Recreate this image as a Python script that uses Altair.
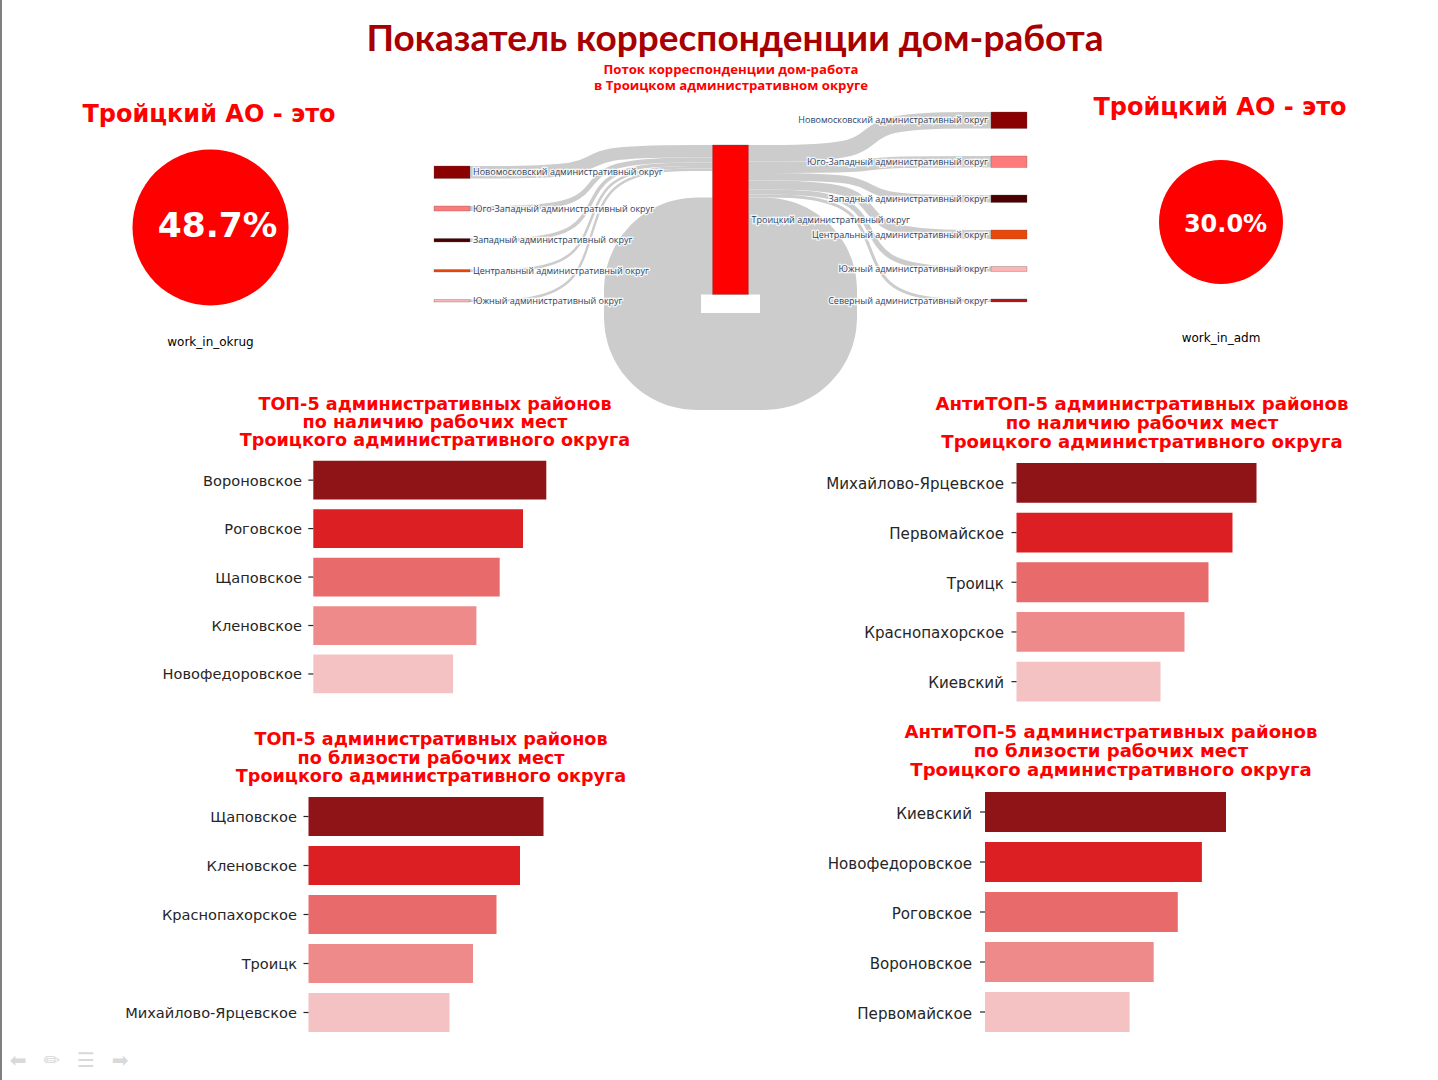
import math
import altair as alt
import pandas as pd

# ---------------- data ----------------
MAIN_TITLE = "Показатель корреспонденции дом-работа"
SANKEY_TITLE = ["Поток корреспонденции дом-работа", "в Троицком административном округе"]
KPI_HEAD = "Тройцкий АО - это"
KPI_NAMES = ["work_in_okrug", "work_in_adm"]
KPI_VALUES = [48.7, 30.0]

SRC_NODES = [
    "Новомосковский административный округ",
    "Юго-Западный административный округ",
    "Западный административный округ",
    "Центральный административный округ",
    "Южный административный округ",
]
SRC_VALUES = [12.5, 5.0, 3.5, 2.5, 2.5]
HUB_NODE = "Троицкий административный округ"
HUB_SELF = 97.0
DST_NODES = [
    "Новомосковский административный округ",
    "Юго-Западный административный округ",
    "Западный административный округ",
    "Центральный административный округ",
    "Южный административный округ",
    "Северный административный округ",
]
DST_VALUES = [16.5, 11.5, 7.5, 9.0, 5.0, 3.0]

TOP_JOBS_NAMES = ["Вороновское", "Роговское", "Щаповское", "Кленовское", "Новофедоровское"]
TOP_JOBS_VALUES = [10, 9, 8, 7, 6]
ANTI_JOBS_NAMES = ["Михайлово-Ярцевское", "Первомайское", "Троицк", "Краснопахорское", "Киевский"]
ANTI_JOBS_VALUES = [10, 9, 8, 7, 6]
TOP_NEAR_NAMES = ["Щаповское", "Кленовское", "Краснопахорское", "Троицк", "Михайлово-Ярцевское"]
TOP_NEAR_VALUES = [10, 9, 8, 7, 6]
ANTI_NEAR_NAMES = ["Киевский", "Новофедоровское", "Роговское", "Вороновское", "Первомайское"]
ANTI_NEAR_VALUES = [10, 9, 8, 7, 6]

T_TOP_JOBS = ["ТОП-5 административных районов", "по наличию рабочих мест", "Троицкого административного округа"]
T_ANTI_JOBS = ["АнтиТОП-5 административных районов", "по наличию рабочих мест", "Троицкого административного округа"]
T_TOP_NEAR = ["ТОП-5 административных районов", "по близости рабочих мест", "Троицкого административного округа"]
T_ANTI_NEAR = ["АнтиТОП-5 административных районов", "по близости рабочих мест", "Троицкого административного округа"]

NAV_ICONS = ["⬅", "✏", "☰", "➡"]

# ---------------- styles ----------------
BAR_COLORS = ["#8E1418", "#DC1F22", "#E86A6A", "#EE8B8A", "#F4C2C2"]
OKRUG_COLORS = {
    "Новомосковский": "#8B0000",
    "Юго-Западный": "#FF7B7B",
    "Западный": "#4A0000",
    "Центральный": "#E8480C",
    "Южный": "#FFB4B4",
    "Северный": "#B01515",
    "Троицкий": "#FF0000",
}
RED = "#FF0000"
TXT = "#262626"
PLOTLY_TXT = "#2a3f5f"
LINK_GREY = "#cccccc"

dummy = pd.DataFrame({"d": [0]})


def text_layer(text, x, y, size, color, font, weight="normal", align="center",
               baseline="alphabetic", line_height=None):
    kw = dict(align=align, baseline=baseline, fontSize=size, color=color,
              font=font, fontWeight=weight)
    if line_height is not None:
        kw["lineHeight"] = line_height
    return alt.Chart(dummy).mark_text(**kw).encode(
        text=alt.value(text), x=alt.value(x), y=alt.value(y))


# ---------------- sankey layout ----------------
COL_X = [0.0, 278.5, 557.0]
NODE_W = 36.0
GAP = 27.5
COL_BOTTOM = 201.0
HUB_TOP = 44.0
LOOP_REACH = 60.0      # centre line of the self loop beyond the hub edges
LOOP_DROP = 115.5      # centre line of the self loop below its attachment
LOOP_R = 44.0          # corner radius of the loop centre line


def okrug_key(name):
    return name.split(" ")[0]


def stack_tops(values):
    total = sum(values) + GAP * (len(values) - 1)
    t = COL_BOTTOM - total
    tops = []
    for v in values:
        tops.append(t)
        t += v + GAP
    return tops


src_tops = stack_tops(SRC_VALUES)
dst_tops = stack_tops(DST_VALUES)
hub_h = max(sum(SRC_VALUES), sum(DST_VALUES)) + HUB_SELF

node_rows = []
for n, v, t in zip(SRC_NODES, SRC_VALUES, src_tops):
    node_rows.append(dict(label=n, key=okrug_key(n), x=COL_X[0], x2=COL_X[0] + NODE_W,
                          y=t, y2=t + v, side="L"))
node_rows.append(dict(label=HUB_NODE, key=okrug_key(HUB_NODE), x=COL_X[1], x2=COL_X[1] + NODE_W,
                      y=HUB_TOP, y2=HUB_TOP + hub_h, side="L"))
for n, v, t in zip(DST_NODES, DST_VALUES, dst_tops):
    node_rows.append(dict(label=n, key=okrug_key(n), x=COL_X[2], x2=COL_X[2] + NODE_W,
                          y=t, y2=t + v, side="R"))
nodes_df = pd.DataFrame(node_rows)
nodes_df["ly"] = (nodes_df["y"] + nodes_df["y2"]) / 2
nodes_df["lx"] = nodes_df.apply(lambda r: r["x2"] + 3 if r["side"] == "L" else r["x"] - 3, axis=1)

# regular links (S-curves)
link_rows = []


def add_path(rows, lid, pts, w):
    for i, (x, y) in enumerate(pts):
        rows.append(dict(link=lid, i=i, x=x, y=y, w=w))


cum = 0.0
for k, (v, t) in enumerate(zip(SRC_VALUES, src_tops)):
    x0, y0 = COL_X[0] + NODE_W, t + v / 2
    x1, y1 = COL_X[1], HUB_TOP + cum + v / 2
    xm = (x0 + x1) / 2
    add_path(link_rows, f"in{k}", [(x0, y0), (xm, y0), (xm, y1), (x1, y1)], v)
    cum += v

cum = 0.0
for k, (v, t) in enumerate(zip(DST_VALUES, dst_tops)):
    x0, y0 = COL_X[1] + NODE_W, HUB_TOP + cum + v / 2
    x1, y1 = COL_X[2], t + v / 2
    xm = (x0 + x1) / 2
    add_path(link_rows, f"out{k}", [(x0, y0), (xm, y0), (xm, y1), (x1, y1)], v)
    cum += v
links_df = pd.DataFrame(link_rows)

# self loop of the hub: rounded-rectangle centre line
yl = HUB_TOP + sum(DST_VALUES) + HUB_SELF / 2
xr = COL_X[1] + NODE_W
xl = COL_X[1]
XR, XL, YB = xr + LOOP_REACH, xl - LOOP_REACH, yl + LOOP_DROP


def corner(cx, cy, a0, a1, n=10):
    return [(cx + LOOP_R * math.cos(math.radians(a0 + (a1 - a0) * j / n)),
             cy + LOOP_R * math.sin(math.radians(a0 + (a1 - a0) * j / n))) for j in range(n + 1)]


loop_pts = [(xr, yl)]
loop_pts += corner(XR - LOOP_R, yl + LOOP_R, -90, 0)
loop_pts += corner(XR - LOOP_R, YB - LOOP_R, 0, 90)
loop_pts += corner(XL + LOOP_R, YB - LOOP_R, 90, 180)
loop_pts += corner(XL + LOOP_R, yl + LOOP_R, 180, 270)
loop_pts += [(xl, yl)]
loop_rows = []
add_path(loop_rows, "loop", loop_pts, HUB_SELF)
loop_df = pd.DataFrame(loop_rows)

SX = alt.Scale(domain=[0, 593], range=[434, 1027], nice=False, zero=False)
SY = alt.Scale(domain=[0, 320], range=[101, 421], nice=False, zero=False)
SW = alt.Scale(domain=[0, 100], range=[0, 100], nice=False, zero=True)

loop = alt.Chart(loop_df).mark_line(interpolate="linear", color=LINK_GREY, strokeJoin="round").encode(
    x=alt.X("x:Q", scale=SX, axis=None),
    y=alt.Y("y:Q", scale=SY, axis=None),
    detail="link:N",
    order="i:Q",
    strokeWidth=alt.StrokeWidth("w:Q", scale=SW, legend=None),
)

links = alt.Chart(links_df).mark_line(interpolate="basis", color=LINK_GREY).encode(
    x=alt.X("x:Q", scale=SX, axis=None),
    y=alt.Y("y:Q", scale=SY, axis=None),
    detail="link:N",
    order="i:Q",
    strokeWidth=alt.StrokeWidth("w:Q", scale=SW, legend=None),
)

keys = list(OKRUG_COLORS.keys())
nodes = alt.Chart(nodes_df).mark_rect(stroke="#555555", strokeWidth=0.6, strokeOpacity=0.5).encode(
    x=alt.X("x:Q", scale=SX, axis=None),
    x2="x2:Q",
    y=alt.Y("y:Q", scale=SY, axis=None),
    y2="y2:Q",
    fill=alt.Fill("key:N", scale=alt.Scale(domain=keys, range=[OKRUG_COLORS[k] for k in keys]), legend=None),
)


def node_labels(side, align):
    base = alt.Chart(nodes_df).transform_filter(f"datum.side == '{side}'")
    enc = dict(x=alt.X("lx:Q", scale=SX, axis=None), y=alt.Y("ly:Q", scale=SY, axis=None), text="label:N")
    halo = base.mark_text(align=align, baseline="middle", font="Open Sans", fontSize=9,
                          stroke="white", strokeWidth=2.5, strokeOpacity=0.8, color="white").encode(**enc)
    txt = base.mark_text(align=align, baseline="middle", font="Open Sans", fontSize=9,
                         color=PLOTLY_TXT).encode(**enc)
    return [halo, txt]


sankey = alt.layer(loop, links, nodes, *node_labels("L", "left"), *node_labels("R", "right"))


# ---------------- bar panels ----------------
def bar_panel(names, values, x_range, y_range, label_x, label_size):
    df = pd.DataFrame({"name": names, "value": values})
    ys = alt.Scale(domain=names, range=y_range, paddingInner=0.2, paddingOuter=0.1)
    xs = alt.Scale(domain=[0, max(values)], range=x_range, nice=False, zero=True)
    y_enc = alt.Y("name:N", scale=ys, axis=None, sort=names, bandPosition=0.5)
    bars = alt.Chart(df).mark_bar().encode(
        x=alt.X("value:Q", scale=xs, axis=None),
        y=alt.Y("name:N", scale=ys, axis=None, sort=names),
        color=alt.Color("name:N", scale=alt.Scale(domain=names, range=BAR_COLORS), legend=None),
    )
    ticks = alt.Chart(df).mark_rule(color=TXT, strokeWidth=1.2).encode(
        x=alt.value(x_range[0] - 5), x2=alt.value(x_range[0]), y=y_enc)
    labels = alt.Chart(df).mark_text(align="right", baseline="middle", font="DejaVu Sans",
                                     fontSize=label_size, color=TXT, dy=1.5).encode(
        x=alt.value(label_x), y=y_enc, text="name:N")
    return alt.layer(bars, ticks, labels)


p1 = bar_panel(TOP_JOBS_NAMES, TOP_JOBS_VALUES, [313.3, 546.3], [455.9, 698.2], 302, 14.6)
p2 = bar_panel(ANTI_JOBS_NAMES, ANTI_JOBS_VALUES, [1016.5, 1256.5], [458.0, 706.5], 1004, 15.1)
p3 = bar_panel(TOP_NEAR_NAMES, TOP_NEAR_VALUES, [308.5, 543.5], [792.0, 1037.0], 297, 14.6)
p4 = bar_panel(ANTI_NEAR_NAMES, ANTI_NEAR_VALUES, [985.0, 1226.0], [787.0, 1037.0], 972, 15.1)


def panel_title(lines, x, y, size, lh):
    return text_layer(lines, x, y, size, RED, "DejaVu Sans", "bold", baseline="middle", line_height=lh)


# ---------------- KPI circles ----------------
kpi_df = pd.DataFrame({"name": KPI_NAMES, "value": KPI_VALUES})


def kpi(name, cx, cy, r, fsize, val_x, val_base, cap_base):
    base = alt.Chart(kpi_df).transform_filter(f"datum.name == '{name}'").transform_calculate(
        lbl="format(datum.value, '.1f') + '%'")
    pie = base.mark_arc(radius=r, color=RED).encode(
        theta=alt.Theta("value:Q", stack=True), x=alt.value(cx), y=alt.value(cy))
    val = base.mark_text(font="DejaVu Sans", fontWeight="bold", fontSize=fsize, color="white",
                         align="center", baseline="alphabetic").encode(
        text="lbl:N", x=alt.value(val_x), y=alt.value(val_base))
    cap = base.mark_text(font="DejaVu Sans", fontSize=12, color="black",
                         align="center", baseline="alphabetic").encode(
        text="name:N", x=alt.value(cx), y=alt.value(cap_base))
    return [pie, val, cap]


# ---------------- slide chrome ----------------
frame = alt.Chart(dummy).mark_rule(color="#555555", strokeWidth=1.5).encode(
    x=alt.value(1), y=alt.value(0), y2=alt.value(1080))
nav = [text_layer(ic, 18 + 34 * j, 1067, 20, "#d9d9d9", "DejaVu Sans") for j, ic in enumerate(NAV_ICONS)]

layers = [
    frame,
    sankey,
    text_layer(MAIN_TITLE, 735, 51, 37, "#A80000", "Lato", "bold"),
    text_layer(SANKEY_TITLE, 731, 70, 13.2, RED, "Open Sans", "bold", baseline="middle", line_height=16),
    text_layer(KPI_HEAD, 209, 121.5, 24, RED, "DejaVu Sans", "bold"),
    text_layer(KPI_HEAD, 1220, 115, 24, RED, "DejaVu Sans", "bold"),
    *kpi("work_in_okrug", 210.5, 227.5, 78, 34.5, 217.5, 236.5, 345.5),
    *kpi("work_in_adm", 1221, 222, 62, 24, 1225.5, 231.5, 341.5),
    p1, p2, p3, p4,
    panel_title(T_TOP_JOBS, 435, 405, 17.6, 18),
    panel_title(T_ANTI_JOBS, 1142, 405, 18.1, 19),
    panel_title(T_TOP_NEAR, 431, 740, 17.6, 18.5),
    panel_title(T_ANTI_NEAR, 1111, 733, 18.1, 19),
    *nav,
]

chart = alt.layer(*layers).resolve_scale(
    x="independent", y="independent", color="independent", fill="independent",
    theta="independent", strokeWidth="independent",
).properties(
    width=1438, height=1080, padding=0, autosize="none", background="white",
).configure_view(stroke=None)

chart.save("out.html", embed_options={"renderer": "svg", "actions": False})
